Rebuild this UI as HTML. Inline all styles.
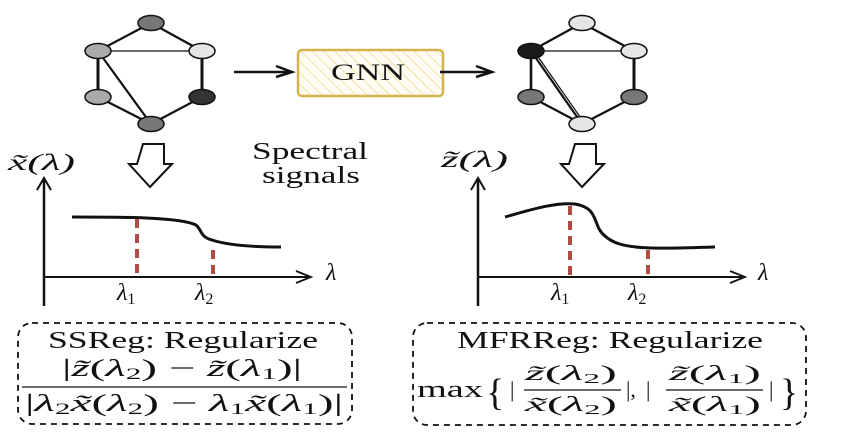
<!DOCTYPE html>
<html><head><meta charset="utf-8"><style>
html,body{margin:0;padding:0;background:#fff;width:864px;height:432px;overflow:hidden}
text{font-family:"Liberation Serif",serif;fill:#111}
.it{font-style:italic}
</style></head><body>
<svg width="864" height="432" viewBox="0 0 864 432" xmlns="http://www.w3.org/2000/svg">
<defs>
<pattern id="h" width="8" height="8" patternUnits="userSpaceOnUse" patternTransform="rotate(-45)">
<rect width="8" height="8" fill="#fffdf3"/><line x1="0" y1="0" x2="0" y2="8" stroke="#f0dfa8" stroke-width="2"/></pattern>
</defs>
<g stroke="#111" stroke-width="2.2" fill="none">
<line x1="151" y1="23" x2="98" y2="51"/><line x1="151" y1="23" x2="202" y2="51"/>
<line x1="98" y1="51" x2="202" y2="51" stroke-width="1.2"/>
<line x1="98" y1="51" x2="98" y2="97" stroke-width="3"/><line x1="202" y1="51" x2="202" y2="97" stroke-width="3"/>
<line x1="98" y1="51" x2="151" y2="124"/><line x1="98" y1="97" x2="151" y2="124"/><line x1="202" y1="97" x2="151" y2="124"/>
<line x1="582" y1="23" x2="531" y2="51"/><line x1="582" y1="23" x2="634" y2="51"/>
<line x1="531" y1="51" x2="634" y2="51" stroke-width="1.2"/>
<line x1="531" y1="51" x2="531" y2="97" stroke-width="2.6"/><line x1="634" y1="51" x2="634" y2="97" stroke-width="3"/>
<line x1="531" y1="51" x2="582" y2="124"/><line x1="534" y1="51" x2="585" y2="124" stroke-width="1.2"/>
<line x1="531" y1="97" x2="582" y2="124"/><line x1="634" y1="97" x2="582" y2="124"/>
</g>
<g stroke="#111" stroke-width="1.5">
<ellipse cx="151" cy="23" rx="13" ry="7.5" fill="#777"/>
<ellipse cx="98" cy="51" rx="13" ry="7.5" fill="#aaa"/>
<ellipse cx="202" cy="51" rx="13" ry="7.5" fill="#e5e5e5"/>
<ellipse cx="98" cy="97" rx="13" ry="7.5" fill="#aaa"/>
<ellipse cx="202" cy="97" rx="13" ry="7.5" fill="#333"/>
<ellipse cx="151" cy="124" rx="13" ry="7.5" fill="#777"/>
<ellipse cx="582" cy="23" rx="13" ry="7.5" fill="#e5e5e5"/>
<ellipse cx="531" cy="51" rx="13" ry="7.5" fill="#1a1a1a"/>
<ellipse cx="634" cy="51" rx="13" ry="7.5" fill="#e5e5e5"/>
<ellipse cx="531" cy="97" rx="13" ry="7.5" fill="#777"/>
<ellipse cx="634" cy="97" rx="13" ry="7.5" fill="#777"/>
<ellipse cx="582" cy="124" rx="13" ry="7.5" fill="#e5e5e5"/>
</g>
<rect x="298" y="50" width="145" height="46" rx="4" fill="url(#h)" stroke="#d4b44c" stroke-width="2.5"/>
<text x="331" y="80" font-size="23" textLength="74" lengthAdjust="spacingAndGlyphs">GNN</text>
<g stroke="#111" stroke-width="2.5" fill="none">
<line x1="234" y1="72" x2="290" y2="72"/><path d="M276,66 L292,72 L276,77"/>
<line x1="440" y1="72" x2="490" y2="72"/><path d="M476,66 L492,72 L476,77"/>
</g>
<path d="M143,144 L164,144 L164,164 L172,164 L150,187 L129,164 L137,164 Z" fill="#fff" stroke="#111" stroke-width="2"/>
<path d="M575,144 L596,144 L596,164 L604,164 L582,187 L561,164 L569,164 Z" fill="#fff" stroke="#111" stroke-width="2"/>
<text x="252" y="159" font-size="24" textLength="116" lengthAdjust="spacingAndGlyphs">Spectral</text>
<text x="262" y="183" font-size="24" textLength="98" lengthAdjust="spacingAndGlyphs">signals</text>
<text x="8" y="170" font-size="23" class="it" textLength="67" lengthAdjust="spacingAndGlyphs">x̃(λ)</text>
<g stroke="#111" fill="none">
<line x1="44" y1="180" x2="44" y2="306" stroke-width="2.5"/>
<path d="M37,190 L44,178 L51,190" stroke-width="2"/>
<line x1="44" y1="277" x2="308" y2="277" stroke-width="2"/>
<path d="M296,271 L311,277 L296,283" stroke-width="1.8"/>
<path d="M72,217 C120,217 180,217 196,225 C202,230 200,237 212,240 C230,246 260,247 281,247" stroke-width="3"/>
</g>
<g stroke="#b04a45" stroke-width="4" stroke-dasharray="9,6">
<line x1="137" y1="219" x2="137" y2="277"/><line x1="213" y1="250" x2="213" y2="277"/>
</g>
<text x="326" y="280" font-size="24" class="it">λ</text>
<text x="117" y="300" font-size="24" class="it">λ<tspan font-size="16" dy="4" font-style="normal">1</tspan></text>
<text x="195" y="300" font-size="24" class="it">λ<tspan font-size="16" dy="4" font-style="normal">2</tspan></text>
<text x="441" y="167" font-size="23" class="it" textLength="67" lengthAdjust="spacingAndGlyphs">z̃(λ)</text>
<g stroke="#111" fill="none">
<line x1="478" y1="180" x2="478" y2="306" stroke-width="2.5"/>
<path d="M471,190 L478,178 L485,190" stroke-width="2"/>
<line x1="478" y1="277" x2="742" y2="277" stroke-width="2"/>
<path d="M730,271 L745,277 L730,283" stroke-width="1.8"/>
<path d="M505,217 C530,210 555,202 575,204 C600,208 592,226 605,236 C620,250 650,249 715,247" stroke-width="3"/>
</g>
<g stroke="#b04a45" stroke-width="4" stroke-dasharray="9,6">
<line x1="570" y1="206" x2="570" y2="277"/><line x1="648" y1="250" x2="648" y2="277"/>
</g>
<text x="758" y="280" font-size="24" class="it">λ</text>
<text x="551" y="300" font-size="24" class="it">λ<tspan font-size="16" dy="4" font-style="normal">1</tspan></text>
<text x="628" y="300" font-size="24" class="it">λ<tspan font-size="16" dy="4" font-style="normal">2</tspan></text>
<rect x="18" y="323" width="334" height="101" rx="14" fill="none" stroke="#111" stroke-width="1.8" stroke-dasharray="6,5"/>
<rect x="413" y="323" width="393" height="102" rx="14" fill="none" stroke="#111" stroke-width="1.8" stroke-dasharray="6,5"/>
<text x="48" y="348" font-size="24" textLength="270" lengthAdjust="spacingAndGlyphs">SSReg: Regularize</text>
<text x="62" y="376" font-size="24" textLength="240" lengthAdjust="spacingAndGlyphs">|<tspan class="it">z̃</tspan>(<tspan class="it">λ</tspan><tspan font-size="16" dy="3">2</tspan><tspan dy="-3">) − </tspan><tspan class="it">z̃</tspan>(<tspan class="it">λ</tspan><tspan font-size="16" dy="3">1</tspan><tspan dy="-3">)|</tspan></text>
<line x1="22" y1="387" x2="347" y2="387" stroke="#111" stroke-width="1.3"/>
<text x="25" y="411" font-size="24" textLength="318" lengthAdjust="spacingAndGlyphs">|<tspan class="it">λ</tspan><tspan font-size="16" dy="3">2</tspan><tspan dy="-3" class="it">x̃</tspan>(<tspan class="it">λ</tspan><tspan font-size="16" dy="3">2</tspan><tspan dy="-3">) − </tspan><tspan class="it">λ</tspan><tspan font-size="16" dy="3">1</tspan><tspan dy="-3" class="it">x̃</tspan>(<tspan class="it">λ</tspan><tspan font-size="16" dy="3">1</tspan><tspan dy="-3">)|</tspan></text>
<text x="457" y="348" font-size="24" textLength="306" lengthAdjust="spacingAndGlyphs">MFRReg: Regularize</text>
<text x="417" y="397" font-size="24" textLength="66" lengthAdjust="spacingAndGlyphs">max</text>
<text x="486" y="405" font-size="38">{</text>
<text x="510" y="397" font-size="22">|</text>
<text x="525" y="380" font-size="21" textLength="92" lengthAdjust="spacingAndGlyphs"><tspan class="it">z̃</tspan>(<tspan class="it">λ</tspan><tspan font-size="14" dy="3">2</tspan><tspan dy="-3">)</tspan></text>
<line x1="524" y1="390" x2="621" y2="390" stroke="#111" stroke-width="1.2"/>
<text x="525" y="411" font-size="21" textLength="92" lengthAdjust="spacingAndGlyphs"><tspan class="it">x̃</tspan>(<tspan class="it">λ</tspan><tspan font-size="14" dy="3">2</tspan><tspan dy="-3">)</tspan></text>
<text x="626" y="397" font-size="22">|,</text>
<text x="646" y="397" font-size="22">|</text>
<text x="669" y="380" font-size="21" textLength="92" lengthAdjust="spacingAndGlyphs"><tspan class="it">z̃</tspan>(<tspan class="it">λ</tspan><tspan font-size="14" dy="3">1</tspan><tspan dy="-3">)</tspan></text>
<line x1="666" y1="390" x2="763" y2="390" stroke="#111" stroke-width="1.2"/>
<text x="669" y="411" font-size="21" textLength="92" lengthAdjust="spacingAndGlyphs"><tspan class="it">x̃</tspan>(<tspan class="it">λ</tspan><tspan font-size="14" dy="3">1</tspan><tspan dy="-3">)</tspan></text>
<text x="769" y="397" font-size="22">|</text>
<text x="780" y="405" font-size="38">}</text>
</svg>
</body></html>
